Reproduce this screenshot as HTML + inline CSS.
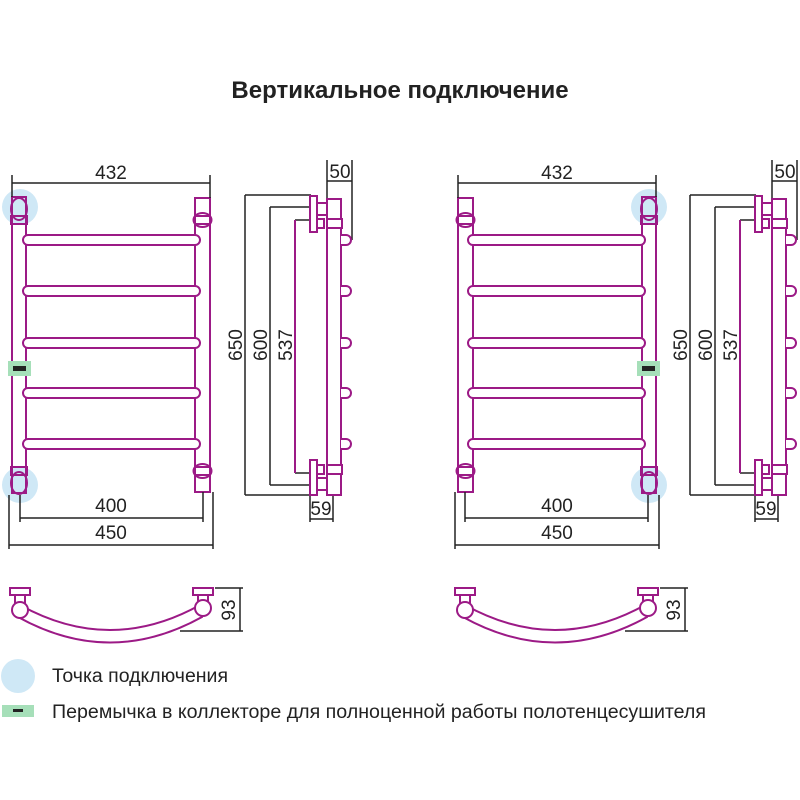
<!DOCTYPE html><html><head><meta charset="utf-8"><style>
body{margin:0;background:#fff}svg{display:block}
text{font-family:"Liberation Sans",sans-serif;fill:#222}
</style></head><body>
<svg width="800" height="800" viewBox="0 0 800 800" xmlns="http://www.w3.org/2000/svg">
<defs>
<g id="front" fill="none" stroke="#9c1a86" stroke-width="2">
  <rect x="12" y="197" width="14" height="296"/>
  <rect x="195" y="198" width="15" height="294"/>
  <rect x="11" y="216" width="16" height="8"/><ellipse cx="19" cy="209" rx="8" ry="11"/>
  <rect x="11" y="467" width="16" height="8"/><ellipse cx="19" cy="483" rx="8" ry="11"/>
  <rect x="195" y="216" width="15" height="8"/><ellipse cx="202.5" cy="220" rx="9" ry="7"/>
  <rect x="195" y="467" width="15" height="8"/><ellipse cx="202.5" cy="471" rx="9" ry="7"/>
  <rect x="23" y="235" width="177" height="10" rx="5" fill="#fff"/>
  <rect x="23" y="286" width="177" height="10" rx="5" fill="#fff"/>
  <rect x="23" y="338" width="177" height="10" rx="5" fill="#fff"/>
  <rect x="23" y="388" width="177" height="10" rx="5" fill="#fff"/>
  <rect x="23" y="439" width="177" height="10" rx="5" fill="#fff"/>
  <g stroke="#222" stroke-width="1.5">
    <line x1="12" y1="183" x2="210" y2="183"/><line x1="12" y1="175" x2="12" y2="197"/><line x1="210" y1="175" x2="210" y2="198"/>
    <line x1="20" y1="518" x2="203" y2="518"/><line x1="20" y1="495" x2="20" y2="522"/><line x1="203" y1="492" x2="203" y2="522"/>
    <line x1="9" y1="545" x2="213" y2="545"/><line x1="9" y1="495" x2="9" y2="549"/><line x1="213" y1="492" x2="213" y2="549"/>
  </g>
</g>
<g id="side">
  <g fill="none" stroke="#222" stroke-width="1.5">
    <line x1="245" y1="195" x2="245" y2="495"/><line x1="245" y1="195" x2="311" y2="195"/><line x1="245" y1="495" x2="311" y2="495"/>
    <line x1="270" y1="207" x2="270" y2="485"/><line x1="270" y1="207" x2="311" y2="207"/><line x1="270" y1="485" x2="311" y2="485"/>
    <line x1="327" y1="160" x2="327" y2="199"/><line x1="352" y1="160" x2="352" y2="240"/><line x1="327" y1="181" x2="352" y2="181"/>
    <line x1="310" y1="495" x2="310" y2="522"/><line x1="333" y1="495" x2="333" y2="522"/><line x1="310" y1="519" x2="333" y2="519"/>
    <line x1="295" y1="220" x2="311" y2="220"/><line x1="295" y1="473" x2="311" y2="473"/>
  </g>
  <g fill="#fff" stroke="#9c1a86" stroke-width="2">
    <line x1="295" y1="220" x2="295" y2="473"/>
    <rect x="327" y="199" width="14" height="296"/>
    <rect x="310" y="196" width="7" height="36"/><rect x="310" y="460" width="7" height="35"/>
    <rect x="317" y="203" width="10" height="12"/><rect x="317" y="219" width="7" height="9"/><rect x="327" y="219" width="15" height="9"/>
    <rect x="317" y="478" width="10" height="12"/><rect x="317" y="465" width="7" height="9"/><rect x="327" y="465" width="15" height="9"/>
    <path d="M341 235h5a5 5 0 0 1 0 10h-5"/><path d="M341 286h5a5 5 0 0 1 0 10h-5"/><path d="M341 338h5a5 5 0 0 1 0 10h-5"/><path d="M341 388h5a5 5 0 0 1 0 10h-5"/><path d="M341 439h5a5 5 0 0 1 0 10h-5"/>
  </g>
</g>
<g id="top">
  <g fill="none" stroke="#222" stroke-width="1.5"><line x1="215" y1="588" x2="243" y2="588"/><line x1="180" y1="631" x2="243" y2="631"/><line x1="240" y1="588" x2="240" y2="631"/></g>
  <g fill="#fff" stroke="#9c1a86" stroke-width="2">
    <path d="M20 605 Q110 655 200 605 L202 617 Q110 668 18 617Z"/>
    <rect x="10" y="588" width="20" height="7"/><rect x="15" y="595" width="10" height="8"/><circle cx="20" cy="610" r="8"/>
    <rect x="193" y="588" width="20" height="7"/><rect x="198" y="595" width="10" height="8"/><circle cx="203" cy="608" r="8"/>
  </g>
</g>
</defs>
<text x="400" y="98" font-size="24" font-weight="bold" text-anchor="middle">Вертикальное подключение</text>
<circle cx="20" cy="207" r="18" fill="#cfe8f6"/><circle cx="20" cy="485" r="18" fill="#cfe8f6"/>
<circle cx="649" cy="207" r="18" fill="#cfe8f6"/><circle cx="649" cy="485" r="18" fill="#cfe8f6"/>
<use href="#front"/><use href="#side"/><use href="#top"/>
<g transform="translate(668,0) scale(-1,1)"><use href="#front"/></g>
<g transform="translate(445,0)"><use href="#side"/><use href="#top"/></g>
<rect x="8" y="361" width="23" height="15" fill="#a6dfb9"/><rect x="13" y="366" width="13" height="5" fill="#222"/>
<rect x="637" y="361" width="23" height="15" fill="#a6dfb9"/><rect x="642" y="366" width="13" height="5" fill="#222"/>
<g font-size="19" text-anchor="middle">
<text x="111" y="179">432</text><text x="557" y="179">432</text>
<text x="340" y="178">50</text><text x="785" y="178">50</text>
<text x="111" y="512">400</text><text x="557" y="512">400</text>
<text x="111" y="539">450</text><text x="557" y="539">450</text>
<text x="321" y="515">59</text><text x="766" y="515">59</text>
<text transform="translate(242,345) rotate(-90)">650</text><text transform="translate(267,345) rotate(-90)">600</text><text transform="translate(292,345) rotate(-90)">537</text>
<text transform="translate(687,345) rotate(-90)">650</text><text transform="translate(712,345) rotate(-90)">600</text><text transform="translate(737,345) rotate(-90)">537</text>
<text transform="translate(235,610) rotate(-90)">93</text><text transform="translate(680,610) rotate(-90)">93</text>
</g>
<circle cx="18" cy="676" r="17" fill="#cfe8f6"/>
<rect x="2" y="705" width="32" height="12" fill="#a6dfb9"/><rect x="13" y="709" width="10" height="3" fill="#222"/>
<text x="52" y="682" font-size="19" textLength="176" lengthAdjust="spacingAndGlyphs">Точка подключения</text>
<text x="52" y="718" font-size="19" textLength="654" lengthAdjust="spacingAndGlyphs">Перемычка в коллекторе для полноценной работы полотенцесушителя</text>
</svg>
</body></html>
